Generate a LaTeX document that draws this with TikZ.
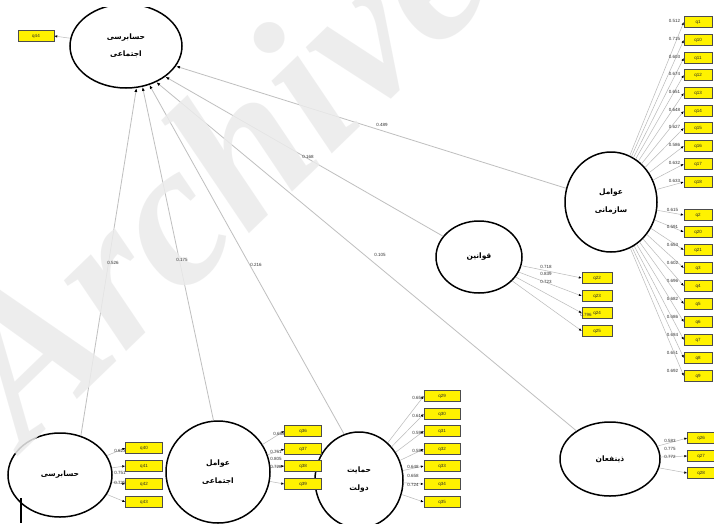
\documentclass[tikz,border=0pt]{standalone}
\usepackage{fontspec}
\setmainfont{Liberation Sans}
\newfontfamily\arabicfont[Script=Arabic]{DejaVu Sans}
\newfontfamily\wmfont{Liberation Serif}
\TeXXeTstate=1
\usetikzlibrary{arrows.meta,shapes.geometric}
\begin{document}
\begin{tikzpicture}[x=1pt,y=-1pt,
 lat/.style={draw, line width=1.5pt, ellipse, inner sep=0pt, align=center,
   font=\arabicfont\bfseries\fontsize{7.5}{8}\selectfont},
 ind/.style={draw=gray!60!black, line width=0.4pt, fill=yellow, minimum height=11pt,
   inner sep=0pt, font=\fontsize{4.5}{5}\selectfont, text=gray!30!black},
 load/.style={draw=gray!55, line width=0.5pt, -{Latex[length=3pt,width=2.4pt,color=black]}},
 spath/.style={draw=gray!50, line width=0.8pt, -{Latex[length=4pt,width=3pt,color=black]}},
 num/.style={font=\fontsize{4.5}{5}\selectfont, text=gray!40!black, inner sep=0.5pt},
]
\useasboundingbox (0,0) rectangle (714,523);
\fill[white] (0,0) rectangle (714,523);

% latent variables
\node[lat, minimum width=112pt, minimum height=84pt] (T) at (126,46)
  {\beginR حسابرسی\endR\\[9pt]\beginR اجتماعی\endR};
\node[lat, minimum width=92pt, minimum height=100pt] (F) at (611,202)
  {\beginR عوامل\endR\\[10pt]\beginR سازمانی\endR};
\node[lat, minimum width=86pt, minimum height=72pt] (L) at (479,257)
  {\beginR قوانین\endR};
\node[lat, minimum width=100pt, minimum height=74pt] (D) at (610,459)
  {\beginR ذینفعان\endR};
\node[lat, minimum width=104pt, minimum height=84pt] (S) at (60,475)
  {\beginR حسابرسی\endR};
\node[lat, minimum width=104pt, minimum height=102pt] (E) at (218,472)
  {\beginR عوامل\endR\\[10pt]\beginR اجتماعی\endR};
\node[lat, minimum width=88pt, minimum height=96pt] (G) at (359,480)
  {\beginR حمایت\endR\\[10pt]\beginR دولت\endR};
\fill[white] (60,0) rectangle (200,7);

% top-left indicator
\node[ind, minimum width=36pt] (q44) at (36,36) {q44};
\draw[load] (T) -- (q44.east);

% organisational factors indicators
\foreach \n/\y/\v in {q1/22/0.512, q10/40/0.715, q11/58/0.603, q12/75/0.674, q13/93/0.651,
  q14/111/0.648, q15/128/0.627, q16/146/0.586, q17/164/0.632, q18/182/0.633}{
  \node[ind, minimum width=28pt] (\n) at (698,\y) {\n};
  \draw[load] (F) -- (\n.west);
  \node[num, anchor=east] (v\n) at ([xshift=-3pt,yshift=1pt]\n.west) {\v};
}
\foreach \n/\y/\v in {q2/215/0.615, q20/232/0.591, q21/250/0.653, q3/268/0.602, q4/286/0.696,
  q5/304/0.682, q6/322/0.686, q7/340/0.684, q8/358/0.651, q9/376/0.692}{
  \node[ind, minimum width=28pt] (\n) at (698,\y) {\n};
  \draw[load] (F) -- (\n.west);
  \node[num, anchor=east] (v\n) at ([xshift=-5pt,yshift=5pt]\n.west) {\v};
}

% laws
\foreach \n/\y in {q22/278, q23/296, q24/313, q25/331}{
  \node[ind, minimum width=30pt] (\n) at (597,\y) {\n};
  \draw[load] (L) -- (\n.west);
}
\node[num] (l1) at (546,267) {0.718};
\node[num] (l2) at (546,274) {0.839};
\node[num] (l3) at (546,282) {0.723};
\node[num] (l4) at (586,315) {0.796};

% stakeholders
\foreach \n/\y in {q26/438, q27/456, q28/473}{
  \node[ind, minimum width=27pt] (\n) at (701,\y) {\n};
  \draw[load] (D) -- (\n.west);
}
\node[num] (d1) at (670,441) {0.583};
\node[num] (d2) at (670,449) {0.775};
\node[num] (d3) at (670,457) {0.772};

% auditing
\foreach \n/\y in {q40/448, q41/466, q42/484, q43/502}{
  \node[ind, minimum width=37pt] (\n) at (144,\y) {\n};
  \draw[load] (S) -- (\n.west);
}
\node[num] (s1) at (120,451) {0.623};
\node[num] (s2) at (120,473) {0.751};
\node[num] (s3) at (120,483) {0.725};

% social factors
\foreach \n/\y in {q36/431, q37/449, q38/466, q39/484}{
  \node[ind, minimum width=37pt] (\n) at (303,\y) {\n};
  \draw[load] (E) -- (\n.west);
}
\node[num] (e1) at (279,434) {0.653};
\node[num] (e2) at (276,452) {0.751};
\node[num] (e3) at (276,459) {0.805};
\node[num] (e4) at (276,467) {0.728};

% government support
\foreach \n/\y in {q29/396, q30/414, q31/431, q32/449, q33/466, q34/484, q35/502}{
  \node[ind, minimum width=36pt] (\n) at (442,\y) {\n};
  \draw[load] (G) -- (\n.west);
}
\node[num] (g1) at (418,398) {0.652};
\node[num] (g2) at (418,416) {0.613};
\node[num] (g3) at (418,433) {0.598};
\node[num] (g4) at (418,451) {0.591};
\node[num] (g5) at (413,467) {0.648};
\node[num] (g6) at (413,476) {0.658};
\node[num] (g7) at (413,485) {0.724};

% structural paths
\draw[spath] (F.163) -- (T.-22);
\draw[spath] (L.150) -- (T.-38);
\draw[spath] (D.140) -- (T.-50);
\draw[spath] (G.108) -- (T.-59);
\draw[spath] (E.95) -- (T.-68);
\draw[spath] (S.62) -- (T.-76);

% black bar bottom-left
\draw[line width=2.5pt] (21,498) -- (21,523);

% watermark
\node[anchor=base west, rotate=44, inner sep=0pt, text=gray!16, opacity=0.85,
  font=\wmfont\bfseries\itshape\fontsize{205}{205}\selectfont] (wm) at (25,450) {Archive};

% path coefficients (above the watermark)
\node[num] (p1) at (382,125) {0.489};
\node[num] (p2) at (308,157) {0.168};
\node[num] (p3) at (380,255) {0.105};
\node[num] (p4) at (256,265) {0.216};
\node[num] (p5) at (182,260) {0.175};
\node[num] (p6) at (113,263) {0.526};
\end{tikzpicture}
\end{document}
